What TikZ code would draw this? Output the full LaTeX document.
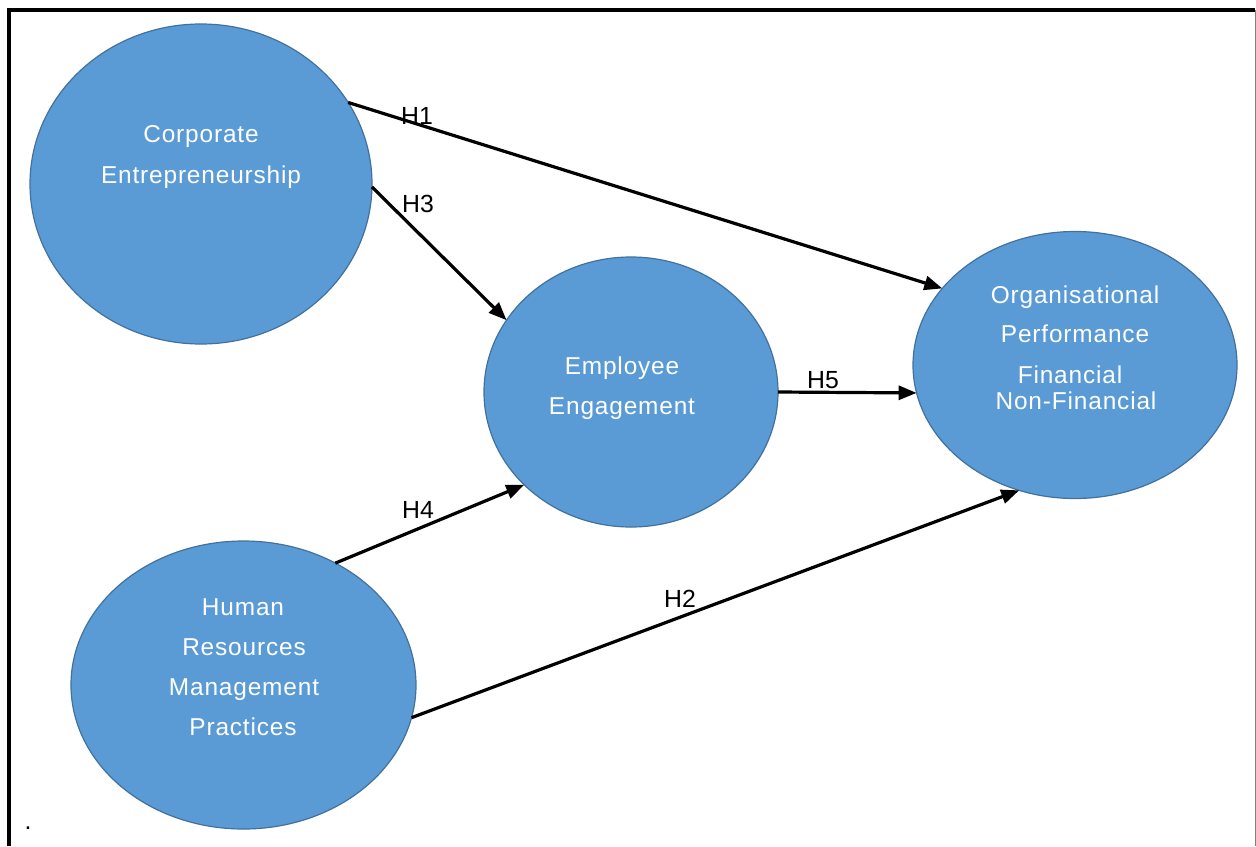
\documentclass[tikz,border=0pt]{standalone}
\usepackage{fontspec}
\setmainfont{Liberation Sans}
\newfontfamily\spacedsans[LetterSpace=3.5]{Liberation Sans}
\usetikzlibrary{shapes.geometric,arrows.meta}
\definecolor{bubblefill}{HTML}{5B9BD5}
\definecolor{bubbleedge}{HTML}{41719C}
\begin{document}
\begin{tikzpicture}[x=0.5pt,y=-0.5pt,
  bubble/.style={ellipse, fill=bubblefill, draw=bubbleedge, line width=0.6pt,
                 inner sep=0pt, outer sep=0pt},
  caption/.style={text=white, font=\spacedsans\fontsize{12.2}{14}\selectfont, inner sep=0pt, anchor=base},
  hyp/.style={font=\fontsize{12.4}{14}\selectfont, inner sep=0pt, anchor=base},
  link/.style={line width=1.6pt, -{Triangle[length=9pt,width=7pt]}}]

% canvas and frame
\useasboundingbox (0,0) rectangle (1256,846);
\fill[white] (0,0) rectangle (1256,846);
\draw[line width=1.7pt] (9,846) -- (9,10) -- (1255,10);
\draw[gray, line width=0.5pt] (1255,10) -- (1255,846);

% constructs
\node[bubble, minimum width=171pt, minimum height=160pt] (ce) at (201,184) {};
\node[bubble, minimum width=147pt, minimum height=135pt] (ee) at (631,392) {};
\node[bubble, minimum width=162pt, minimum height=133.5pt] (op) at (1075,365) {};
\node[bubble, minimum width=172.5pt, minimum height=144pt] (hrm) at (243.5,685) {};

% construct names
\node[caption] (ce1) at (201,142) {Corporate};
\node[caption] (ce2) at (201,183) {Entrepreneurship};
\node[caption] (ee1) at (622,374) {Employee};
\node[caption] (ee2) at (622,414) {Engagement};
\node[caption] (op1) at (1075,303) {Organisational};
\node[caption] (op2) at (1075,342) {Performance};
\node[caption] (op3) at (1070,383) {Financial};
\node[caption] (op4) at (1076,409) {Non-Financial};
\node[caption] (hr1) at (243,615) {Human};
\node[caption] (hr2) at (244,655) {Resources};
\node[caption] (hr3) at (244,695) {Management};
\node[caption] (hr4) at (243,735) {Practices};

% hypothesised paths
\draw[link] (ce.29.4) -- (op.150.4);
\draw[link] (ce.-1) -- (ee.150);
\draw[link] (ee.0) -- (op.190);
\draw[link] (hrm.53.8) -- (ee.221.8);
\draw[link] (hrm.-11.2) -- (op.246);

\node[hyp] (h1) at (417,124) {H1};
\node[hyp] (h3) at (418,212) {H3};
\node[hyp] (h5) at (823,388) {H5};
\node[hyp] (h4) at (418,518) {H4};
\node[hyp] (h2) at (680,607) {H2};

\node[hyp] (dot) at (28,829) {.};
\end{tikzpicture}
\end{document}
